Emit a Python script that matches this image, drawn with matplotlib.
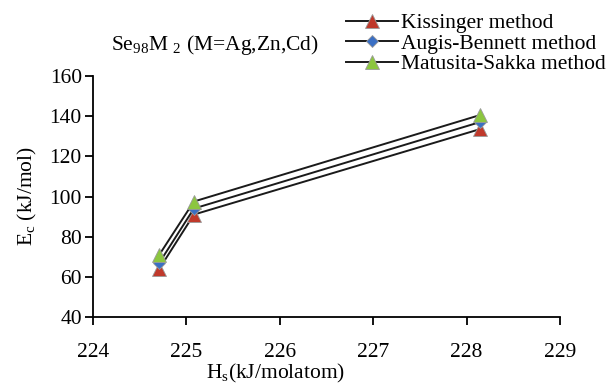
import matplotlib
matplotlib.use("Agg")
import matplotlib.pyplot as plt

plt.rcParams["font.family"] = "Liberation Serif"
plt.rcParams["mathtext.fontset"] = "custom"
plt.rcParams["mathtext.rm"] = "Liberation Serif"
plt.rcParams["mathtext.it"] = "Liberation Serif:italic"

# data
hs = [224.71, 225.08, 228.14]
kissinger = [64, 91, 133.5]
augis_bennett = [67, 94, 137]
matusita_sakka = [71, 97.5, 140.5]

series = [
    ("Kissinger method", kissinger, "^", "#C0392B"),
    ("Augis-Bennett method", augis_bennett, "D", "#3A6FC4"),
    ("Matusita-Sakka method", matusita_sakka, "^", "#8CC63F"),
]

fig = plt.figure(figsize=(6.08, 3.87), dpi=100)
ax = fig.add_axes([93 / 608, 1 - 317 / 387, (560 - 93) / 608, (317 - 76) / 387])

for label, ys, mk, col in series:
    ms = 6.5 if mk == "D" else 10
    ax.plot(hs, ys, color="#1a1a1a", lw=1.4, marker=mk, ms=ms,
            mfc=col, mec="#9a9a9a", mew=0.6, label=label)

ax.set_xlim(224, 229)
ax.set_ylim(40, 160)
ax.set_xticks(range(224, 230))
ax.set_yticks(range(40, 161, 20))
for s in ("top", "right"):
    ax.spines[s].set_visible(False)
for s in ("left", "bottom"):
    ax.spines[s].set_linewidth(1.3)
ax.tick_params(axis="both", direction="out", length=6, width=1.3, labelsize=15.5)
ax.tick_params(axis="x", pad=13)
ax.tick_params(axis="y", pad=2)

ax.set_xlabel(r"H$_{\rm s}$(kJ/molatom)", fontsize=15.5)
ax.xaxis.set_label_coords((275 - 93) / (560 - 93), -0.185)
ax.set_ylabel(r"E$_{\rm c}$ (kJ/mol)", fontsize=15.5)
ax.yaxis.set_label_coords(-0.115, 0.5)

fig.text(111 / 608, 1 - 45 / 387, r"Se$_{98}$M $_2$ (M=Ag,Zn,Cd)",
         fontsize=15.5, va="center", ha="left")

fig.legend(loc="upper left", bbox_to_anchor=(346 / 608, 1 - 13 / 387),
           frameon=False, fontsize=15.5, handlelength=2.4, handletextpad=0.15,
           labelspacing=0.02, borderpad=0, borderaxespad=0)

fig.savefig("out.png", dpi=100)
